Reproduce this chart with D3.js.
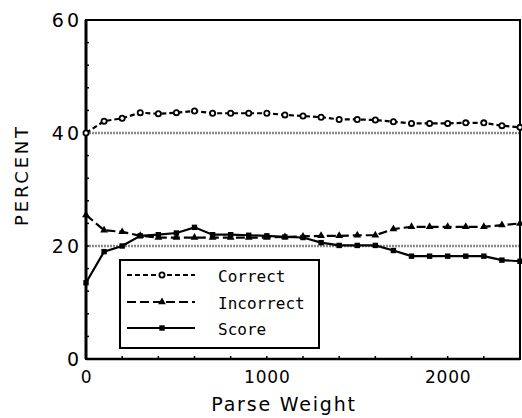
<!DOCTYPE html>
<html><head><meta charset="utf-8">
<script src="https://cdn.jsdelivr.net/npm/d3@7"></script>
<style>
html,body{margin:0;padding:0;background:#fff;}
text{font-family:"DejaVu Sans",sans-serif;fill:#000;}
</style></head>
<body><svg id="c" width="522" height="418"></svg>
<script>
const weights = [0,100,200,300,400,500,600,700,800,900,1000,1100,1200,1300,1400,1500,1600,1700,1800,1900,2000,2100,2200,2300,2400];
const correct = [40.0,42.1,42.6,43.6,43.4,43.6,43.9,43.5,43.5,43.5,43.5,43.2,43.0,42.8,42.4,42.4,42.3,42.0,41.7,41.7,41.7,41.8,41.8,41.3,41.0];
const incorrect = [25.5,22.8,22.5,21.8,21.5,21.5,21.5,21.5,21.5,21.5,21.5,21.6,21.7,21.8,21.8,21.9,21.9,23.0,23.4,23.4,23.4,23.4,23.4,23.7,24.0];
const score = [13.5,19.0,20.0,21.8,22.0,22.3,23.3,22.0,22.0,21.9,21.8,21.6,21.5,20.6,20.1,20.1,20.1,19.2,18.2,18.2,18.2,18.2,18.2,17.5,17.3];
const refLines = [40,20];
const xTickLabels = [0,1000,2000];
const yTickLabels = [0,20,40,60];
const seriesNames = ["Correct","Incorrect","Score"];

const svg = d3.select("#c");
const x = d3.scaleLinear().domain([0,2400]).range([86,520]);
const y = d3.scaleLinear().domain([0,60]).range([359,20]);

// reference lines
svg.selectAll(".ref").data(refLines).enter().append("line")
  .attr("x1",x(0)).attr("x2",x(2400)).attr("y1",d=>y(d)).attr("y2",d=>y(d))
  .attr("stroke","#888").attr("stroke-width",2.5).attr("stroke-dasharray","2,1");

// minor ticks (inward)
const xMinor = d3.range(200,2400,200);
svg.selectAll(".xt").data(xMinor).enter().append("line")
  .attr("x1",d=>x(d)).attr("x2",d=>x(d)).attr("y1",y(0)).attr("y2",y(0)-3)
  .attr("stroke","#000").attr("stroke-width",1.5);
const yMinor = d3.range(4,60,4);
svg.selectAll(".yt").data(yMinor).enter().append("line")
  .attr("x1",x(0)).attr("x2",x(0)+3).attr("y1",d=>y(d)).attr("y2",d=>y(d))
  .attr("stroke","#000").attr("stroke-width",1.5);

// frame
svg.append("rect").attr("x",x(0)).attr("y",y(60)).attr("width",x(2400)-x(0)).attr("height",y(0)-y(60))
  .attr("fill","none").attr("stroke","#000").attr("stroke-width",2);
svg.append("line").attr("x1",x(0)).attr("x2",x(0)).attr("y1",y(60)).attr("y2",y(0))
  .attr("stroke","#000").attr("stroke-width",3);
svg.append("line").attr("x1",x(0)).attr("x2",x(2400)).attr("y1",y(0)).attr("y2",y(0))
  .attr("stroke","#000").attr("stroke-width",2.5);

// tick labels
svg.selectAll(".xl").data(xTickLabels).enter().append("text")
  .attr("x",d=>x(d)+0.5).attr("y",383).attr("text-anchor","middle")
  .style("font-size","17px").style("letter-spacing","0.8px").text(d=>d);
svg.selectAll(".yl").data(yTickLabels).enter().append("text")
  .attr("x",82).attr("y",d=>y(d)+7).attr("text-anchor","end")
  .style("font-size","19px").style("letter-spacing","3px").text(d=>d);

// axis titles
svg.append("text").attr("x",284).attr("y",411).attr("text-anchor","middle")
  .style("font-size","19px").style("letter-spacing","1.8px").text("Parse Weight");
svg.append("text").attr("transform","translate(28,175) rotate(-90)").attr("text-anchor","middle")
  .style("font-size","18px").style("letter-spacing","2.8px").text("PERCENT");

// series
const series = [
  {name:seriesNames[0], vals:correct, dash:"5,3", marker:"circle"},
  {name:seriesNames[1], vals:incorrect, dash:"9,4", marker:"triangle"},
  {name:seriesNames[2], vals:score, dash:null, marker:"square"}
];
const line = d3.line().x(d=>x(d[0])).y(d=>y(d[1]));
function drawMarker(g, px, py, type){
  if(type==="circle"){
    g.append("circle").attr("cx",px).attr("cy",py).attr("r",2.6)
     .attr("fill","#fff").attr("stroke","#000").attr("stroke-width",1.8);
  } else if(type==="triangle"){
    g.append("path").attr("d",d3.symbol().type(d3.symbolTriangle).size(26)())
     .attr("transform",`translate(${px},${py})`).attr("fill","#000");
  } else {
    g.append("rect").attr("x",px-2.7).attr("y",py-2.7).attr("width",5.4).attr("height",5.4).attr("fill","#000");
  }
}
series.forEach(s=>{
  const pts = weights.map((w,i)=>[w,s.vals[i]]);
  svg.append("path").datum(pts).attr("d",line).attr("fill","none")
    .attr("stroke","#000").attr("stroke-width",2.2)
    .attr("stroke-dasharray",s.dash);
  const g = svg.append("g");
  pts.forEach(p=>drawMarker(g,x(p[0]),y(p[1]),s.marker));
});

// legend
const lg = svg.append("g");
lg.append("rect").attr("x",120).attr("y",260).attr("width",199).attr("height",88)
  .attr("fill","#fff").attr("stroke","#000").attr("stroke-width",2);
const rowsY = [275,302,328];
series.forEach((s,i)=>{
  const yy = rowsY[i];
  lg.append("line").attr("x1",127).attr("x2",195).attr("y1",yy).attr("y2",yy)
    .attr("stroke","#000").attr("stroke-width",2).attr("stroke-dasharray",s.dash);
  drawMarker(lg,162,yy,s.marker);
  lg.append("text").attr("x",218).attr("y",yy+7)
    .style("font-family","'DejaVu Sans Mono',monospace").style("font-size","16px").text(s.name);
});
</script></body></html>
